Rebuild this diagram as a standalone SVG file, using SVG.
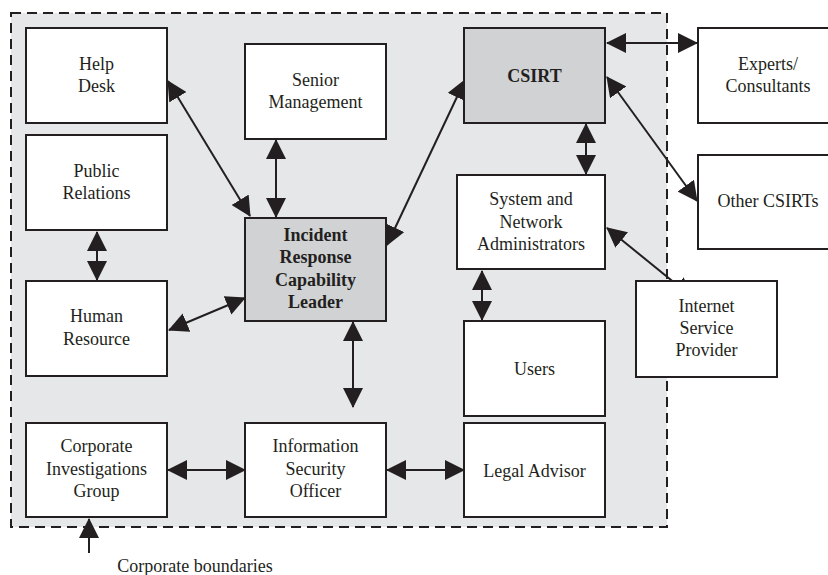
<svg xmlns="http://www.w3.org/2000/svg" width="828" height="575" viewBox="0 0 828 575">
<style>
.box{fill:#ffffff;stroke:#231f20;stroke-width:2}
.hl{fill:#d1d2d4;stroke:#231f20;stroke-width:2}
.t{font-family:"Liberation Serif","Times New Roman",serif;font-size:18px;fill:#231f20;text-anchor:middle}
.b{font-weight:bold}
.c{stroke:#231f20;stroke-width:2;fill:none;marker-end:url(#ah);marker-start:url(#ah)}
.s{stroke:#231f20;stroke-width:2;fill:none;marker-end:url(#ah)}
</style>
<defs>
<marker id="ah" viewBox="0 0 20 20" refX="19" refY="10" markerWidth="20" markerHeight="20" markerUnits="userSpaceOnUse" orient="auto-start-reverse">
<path d="M0,0 L20,10 L0,20 z" fill="#231f20"/>
</marker>
</defs>
<rect width="828" height="575" fill="#ffffff"/>
<g id="boundary">
<rect x="11" y="13" width="656" height="514" fill="#e6e7e8" stroke="#231f20" stroke-width="2" stroke-dasharray="10 6"/>
</g>
<g id="connectors">
<line class="c" x1="168" y1="81" x2="250" y2="216"/>
<line class="c" x1="276" y1="140" x2="276" y2="217"/>
<line class="c" x1="97" y1="232" x2="97" y2="280"/>
<line class="c" x1="169" y1="330" x2="245" y2="298"/>
<line class="c" x1="353" y1="322" x2="353" y2="407"/>
<line class="c" x1="168" y1="470" x2="245" y2="470"/>
<line class="c" x1="387" y1="470" x2="464" y2="470"/>
<line class="c" x1="387" y1="245" x2="465" y2="80"/>
<line class="c" x1="607" y1="43" x2="697" y2="43"/>
<line class="c" x1="607" y1="77" x2="697" y2="201"/>
<line class="c" x1="586" y1="124" x2="586" y2="174"/>
<line class="c" x1="607" y1="228" x2="692" y2="297"/>
<line class="c" x1="482" y1="271" x2="482" y2="320"/>
<line class="s" x1="89" y1="553" x2="89" y2="519"/>
</g>
<g id="help-desk">
<rect class="box" x="26" y="28" width="141" height="95"/>
<text class="t" x="96.5" y="70">Help</text>
<text class="t" x="96.5" y="92">Desk</text>
</g>
<g id="senior-management">
<rect class="box" x="245" y="44" width="141" height="95"/>
<text class="t" x="315.5" y="86">Senior</text>
<text class="t" x="315.5" y="108">Management</text>
</g>
<g id="public-relations">
<rect class="box" x="26" y="135" width="141" height="95"/>
<text class="t" x="96.5" y="177">Public</text>
<text class="t" x="96.5" y="199">Relations</text>
</g>
<g id="incident-response">
<rect class="hl" x="245" y="218" width="141" height="103"/>
<text class="t b" x="315.5" y="241">Incident</text>
<text class="t b" x="315.5" y="263">Response</text>
<text class="t b" x="315.5" y="286">Capability</text>
<text class="t b" x="315.5" y="308">Leader</text>
</g>
<g id="human-resource">
<rect class="box" x="26" y="281" width="141" height="95"/>
<text class="t" x="96.5" y="322">Human</text>
<text class="t" x="96.5" y="345">Resource</text>
</g>
<g id="corporate-investigations">
<rect class="box" x="26" y="423" width="141" height="94"/>
<text class="t" x="96.5" y="452">Corporate</text>
<text class="t" x="96.5" y="475">Investigations</text>
<text class="t" x="96.5" y="497">Group</text>
</g>
<g id="information-security-officer">
<rect class="box" x="245" y="423" width="141" height="94"/>
<text class="t" x="315.5" y="452">Information</text>
<text class="t" x="315.5" y="475">Security</text>
<text class="t" x="315.5" y="497">Officer</text>
</g>
<g id="csirt">
<rect class="hl" x="464" y="28" width="141" height="95"/>
<text class="t b" x="534.5" y="82">CSIRT</text>
</g>
<g id="system-network-admins">
<rect class="box" x="457" y="175" width="148" height="94"/>
<text class="t" x="531" y="205">System and</text>
<text class="t" x="531" y="228">Network</text>
<text class="t" x="531" y="250">Administrators</text>
</g>
<g id="users">
<rect class="box" x="464" y="321" width="141" height="95"/>
<text class="t" x="534.5" y="375">Users</text>
</g>
<g id="legal-advisor">
<rect class="box" x="464" y="423" width="141" height="94"/>
<text class="t" x="534.5" y="477">Legal Advisor</text>
</g>
<g id="experts">
<rect class="box" x="698" y="28" width="140" height="95"/>
<text class="t" x="768" y="70">Experts/</text>
<text class="t" x="768" y="92">Consultants</text>
</g>
<g id="other-csirts">
<rect class="box" x="698" y="155" width="140" height="94"/>
<text class="t" x="768" y="207">Other CSIRTs</text>
</g>
<g id="isp">
<rect class="box" x="636" y="281" width="141" height="96"/>
<text class="t" x="706.5" y="312">Internet</text>
<text class="t" x="706.5" y="334">Service</text>
<text class="t" x="706.5" y="356">Provider</text>
</g>
<g id="label">
<text class="t" x="195" y="572">Corporate boundaries</text>
</g>
</svg>
